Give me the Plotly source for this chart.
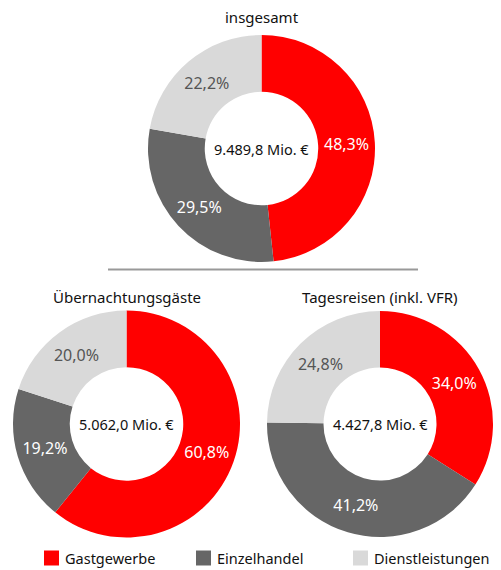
import plotly.graph_objects as go

categories = ["Gastgewerbe", "Einzelhandel", "Dienstleistungen"]
colors = ["#FF0000", "#666666", "#D9D9D9"]
text_colors = ["#FFFFFF", "#FFFFFF", "#555555"]

chart_titles = ["insgesamt", "Übernachtungsgäste", "Tagesreisen (inkl. VFR)"]
totals = ["9.489,8 Mio. €", "5.062,0 Mio. €", "4.427,8 Mio. €"]
shares_total = [48.3, 29.5, 22.2]
shares_overnight = [60.8, 19.2, 20.0]
shares_day = [34.0, 41.2, 24.8]
series = [shares_total, shares_overnight, shares_day]

W, H = 501, 570
FONT = "Noto Sans"

# domains in pixels: (x0, x1, ytop, ybottom)
boxes = [(148, 375, 35, 262), (13, 240, 310, 538), (267, 493, 311, 537)]
title_y = [17, 297, 297]

fig = go.Figure()
for vals, box in zip(series, boxes):
    x0, x1, yt, yb = box
    fig.add_trace(go.Pie(
        labels=categories,
        values=vals,
        text=[f"{v:.1f}".replace(".", ",") + "%" for v in vals],
        textinfo="text",
        textposition="inside",
        insidetextorientation="horizontal",
        textfont=dict(family=FONT, size=16, color=text_colors),
        marker=dict(colors=colors, line=dict(width=0)),
        hole=0.5,
        sort=False,
        direction="clockwise",
        rotation=0,
        showlegend=False,
        hoverinfo="label+text",
        domain=dict(x=[x0 / W, x1 / W], y=[1 - yb / H, 1 - yt / H]),
    ))

annotations = []
for t, tot, box, ty in zip(chart_titles, totals, boxes, title_y):
    x0, x1, yt, yb = box
    cx = (x0 + x1) / 2 / W
    cy = 1 - (yt + yb) / 2 / H
    annotations.append(dict(x=cx, y=cy, xref="paper", yref="paper", text=tot,
                            xanchor="center", yanchor="middle",
                            showarrow=False, font=dict(family=FONT, size=14.5, color="#111111")))
    annotations.append(dict(x=cx, y=1 - ty / H, xref="paper", yref="paper", text=t,
                            xanchor="center", yanchor="middle",
                            showarrow=False, font=dict(family=FONT, size=15, color="#111111")))

shapes = [dict(type="line", xref="paper", yref="paper", x0=108 / W, x1=418 / W,
               y0=1 - 269.5 / H, y1=1 - 269.5 / H, line=dict(color="#999999", width=2))]

legend_x = [44, 196, 353]
ly = 558
for cat, col, lx in zip(categories, colors, legend_x):
    shapes.append(dict(type="rect", xref="paper", yref="paper",
                       x0=lx / W, x1=(lx + 15) / W, y0=1 - (ly + 7.5) / H, y1=1 - (ly - 7.5) / H,
                       fillcolor=col, line=dict(width=0)))
    annotations.append(dict(x=(lx + 19) / W, y=1 - ly / H, xref="paper", yref="paper",
                            text=cat, showarrow=False, xanchor="left", yanchor="middle",
                            font=dict(family=FONT, size=14.5, color="#111111")))

fig.update_layout(
    width=W, height=H,
    margin=dict(l=0, r=0, t=0, b=0),
    paper_bgcolor="white", plot_bgcolor="white",
    annotations=annotations, shapes=shapes,
)
fig.write_html("out.html", config={"displayModeBar": False},
               post_script="document.body.style.margin='0px';")
